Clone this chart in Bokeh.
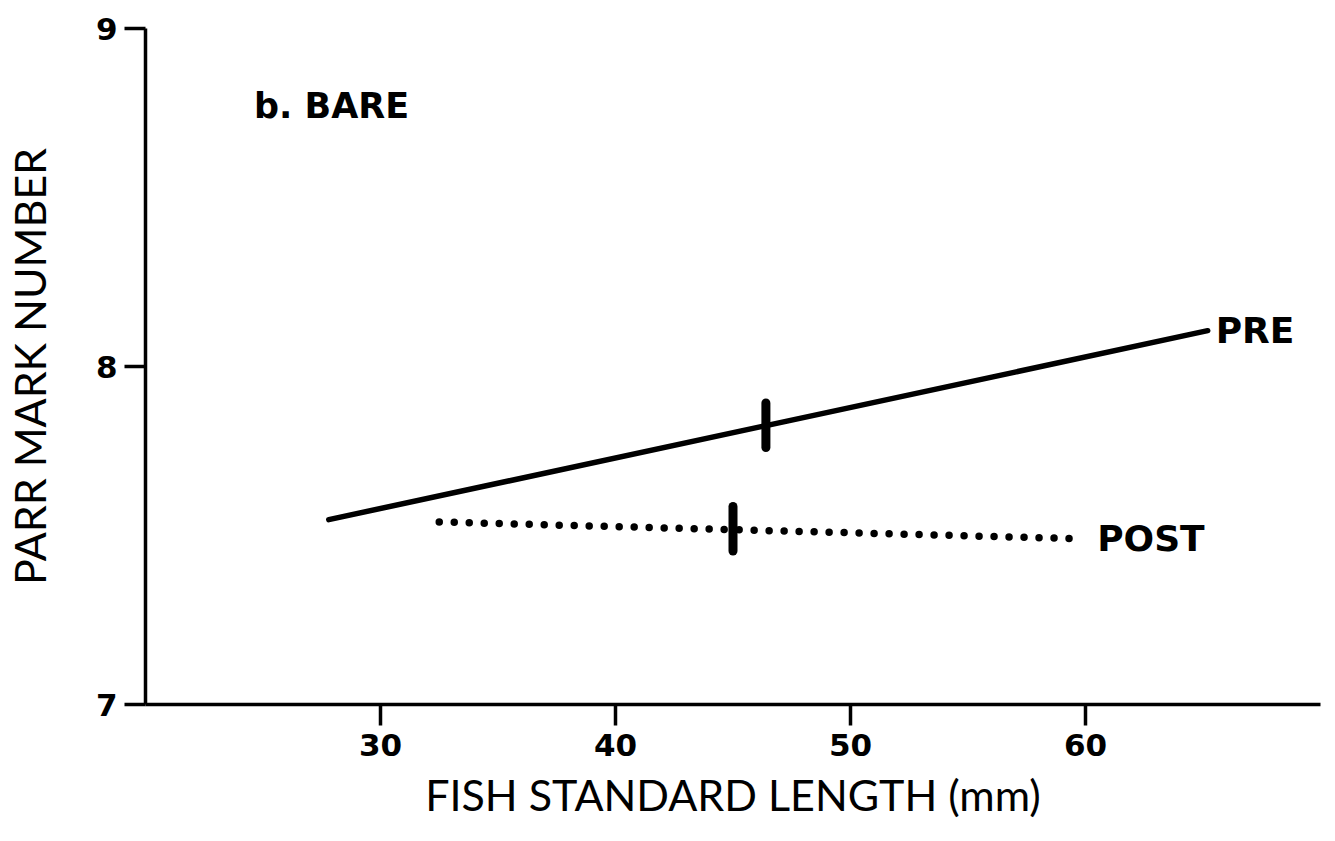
from bokeh.plotting import figure
from bokeh.models import FixedTicker, Label, Range1d
from bokeh.core.properties import value
from bokeh.embed import file_html
from bokeh.resources import INLINE

# ---- data ----
pre_x = [27.8, 65.2]
pre_y = [7.547, 8.106]
post_x = [32.5, 59.9]
post_y = [7.54, 7.49]
mean_x = [46.4, 45.0]
mean_y = [7.826, 7.52]
series_names = ["PRE", "POST"]
x_ticks = [30, 40, 50, 60]
y_ticks = [7, 8, 9]
panel_title = "b. BARE"
x_title = "FISH STANDARD LENGTH (mm)"
y_title = "PARR MARK NUMBER"

bar_half = 0.066

p = figure(width=1335, height=841, output_backend="svg", toolbar_location=None,
           x_range=Range1d(20, 70), y_range=Range1d(7, 9),
           min_border_left=141, min_border_right=15, min_border_top=28,
           min_border_bottom=137)
p.outline_line_color = None
p.xgrid.visible = False
p.ygrid.visible = False
p.background_fill_color = "white"

for ax in (p.xaxis[0], p.yaxis[0]):
    ax.axis_line_width = 3.5
    ax.axis_line_color = "black"
    ax.major_tick_line_width = 3.5
    ax.major_tick_line_color = "black"
    ax.major_tick_in = 0
    ax.major_tick_out = 21
    ax.minor_tick_line_color = None
    ax.major_label_text_font = "DejaVu Sans"
    ax.major_label_text_font_style = "bold"
    ax.major_label_text_font_size = "31px"
    ax.major_label_text_color = "black"
    ax.axis_label_text_font = "Lato"
    ax.axis_label_text_font_style = "normal"
    ax.axis_label_text_font_size = "43px"
    ax.axis_label_text_color = "black"

p.xaxis.ticker = FixedTicker(ticks=x_ticks)
p.yaxis.ticker = FixedTicker(ticks=y_ticks)
p.xaxis.major_label_standoff = 8
p.yaxis.major_label_standoff = 7
p.xaxis.axis_label = x_title
p.yaxis.axis_label = y_title
p.xaxis.axis_label_standoff = 10
p.yaxis.axis_label_standoff = 38

# PRE: solid line
p.line(pre_x, pre_y, line_color="black", line_width=5.5, line_cap="round")
# POST: dotted line
p.line(post_x, post_y, line_color="black", line_width=7.5, line_cap="round",
       line_dash="0 15")

# mean bars
p.segment(x0=mean_x, x1=mean_x,
          y0=[m - bar_half for m in mean_y], y1=[m + bar_half for m in mean_y],
          line_color="black", line_width=9, line_cap="round")

# end labels
p.text(x=[pre_x[-1]], y=[pre_y[-1]], text=[series_names[0]], x_offset=8,
       text_baseline="middle", text_font=value("DejaVu Sans"),
       text_font_style="bold", text_font_size="36px", text_color="black")
p.text(x=[post_x[-1]], y=[post_y[-1]], text=[series_names[1]], x_offset=14,
       text_baseline="middle", text_font=value("DejaVu Sans"),
       text_font_style="bold", text_font_size="36px", text_color="black")

p.add_layout(Label(x=24.62, y=8.77, text=panel_title, text_baseline="middle",
                   text_font="DejaVu Sans", text_font_style="bold",
                   text_font_size="35px", text_color="black"))

open("out.html", "w").write(file_html(p, INLINE))
